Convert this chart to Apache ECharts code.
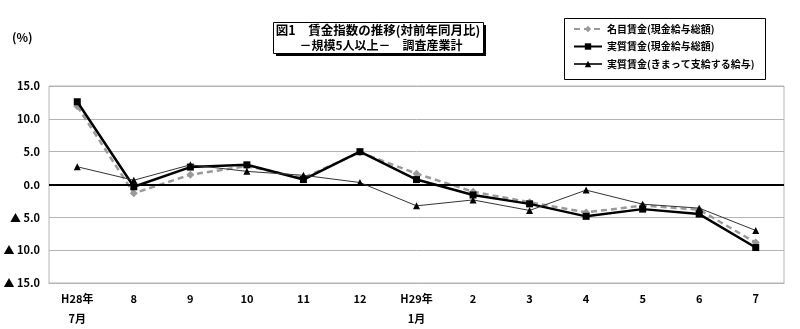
<!DOCTYPE html>
<html>
<head>
<meta charset="utf-8">
<script src="https://cdn.jsdelivr.net/npm/echarts@6/dist/echarts.min.js"></script>
<style>
  html, body { margin: 0; padding: 0; background: #fff; }
  #chart { width: 800px; height: 329px; }
</style>
</head>
<body>
<div id="chart"></div>
<script>
// 月次カテゴリ（H28年7月〜H29年7月）
var categories = ['H28年\n7月', '8', '9', '10', '11', '12', 'H29年\n1月', '2', '3', '4', '5', '6', '7'];

// 名目賃金（現金給与総額）対前年同月比 (%)
var nominalTotal = [11.9, -1.35, 1.5, 2.8, 1.0, 4.9, 1.65, -1.1, -2.7, -4.25, -3.2, -3.85, -8.85];
// 実質賃金（現金給与総額）
var realTotal = [12.6, -0.35, 2.65, 3.0, 0.75, 5.0, 0.75, -1.6, -2.95, -4.85, -3.75, -4.5, -9.6];
// 実質賃金（きまって支給する給与）
var realScheduled = [2.7, 0.65, 3.0, 2.0, 1.4, 0.3, -3.25, -2.35, -3.95, -0.85, -3.0, -3.6, -7.0];

var seriesNames = ['名目賃金(現金給与総額)', '実質賃金(現金給与総額)', '実質賃金(きまって支給する給与)'];
var titleLines = ['図1　賃金指数の推移(対前年同月比)', '－規模5人以上－　調査産業計'];

var FONT = '"Noto Sans CJK JP", "Noto Sans", sans-serif';

var chart = echarts.init(document.getElementById('chart'), null, { renderer: 'canvas' });

chart.setOption({
  animation: false,
  backgroundColor: '#ffffff',
  textStyle: { fontFamily: FONT },
  grid: {
    left: 49, right: 16, top: 86, bottom: 43,
    show: true, borderColor: '#b4b4b4', borderWidth: 1, backgroundColor: 'transparent'
  },
  xAxis: {
    type: 'category',
    data: categories,
    boundaryGap: true,
    axisLine: { onZero: false, lineStyle: { color: '#b4b4b4', width: 1 } },
    axisTick: { show: false },
    axisLabel: {
      color: '#000', fontFamily: FONT, fontWeight: 'bold', fontSize: 11,
      lineHeight: 20, margin: 6, interval: 0
    },
    splitLine: { show: false }
  },
  yAxis: {
    type: 'value',
    min: -15, max: 15, interval: 5,
    axisLine: { show: false },
    axisTick: { show: false },
    axisLabel: {
      color: '#000', fontFamily: FONT, fontWeight: 'bold', fontSize: 11, margin: 9,
      formatter: function (v) {
        return v < 0 ? '▲ ' + Math.abs(v).toFixed(1) : v.toFixed(1);
      }
    },
    splitLine: { lineStyle: { color: '#b4b4b4', width: 1 } }
  },
  legend: {
    orient: 'vertical',
    left: 568, top: 19,
    itemWidth: 28, itemHeight: 8, itemGap: 7.5,
    textStyle: { color: '#000', fontFamily: FONT, fontWeight: 'bold', fontSize: 10 },
    data: seriesNames
  },
  graphic: [
    // 凡例の枠
    { type: 'rect', left: 562, top: 16, shape: { width: 201, height: 61 },
      style: { fill: 'none', stroke: '#000', lineWidth: 1 }, z: 1 },
    // タイトル枠（影付き）
    { type: 'rect', left: 276, top: 25, shape: { width: 210, height: 31 },
      style: { fill: '#000' }, z: 1 },
    { type: 'rect', left: 273, top: 22, shape: { width: 210, height: 31 },
      style: { fill: '#fff', stroke: '#000', lineWidth: 1 }, z: 2 },
    { type: 'text', x: 378, y: 30, z: 3,
      style: { text: titleLines[0], fill: '#000', font: 'bold 12.5px ' + FONT,
        textAlign: 'center', textVerticalAlign: 'middle' } },
    { type: 'text', x: 381, y: 45, z: 3,
      style: { text: titleLines[1], fill: '#000', font: 'bold 12px ' + FONT,
        textAlign: 'center', textVerticalAlign: 'middle' } },
    // 単位
    { type: 'text', x: 12, y: 37, z: 3,
      style: { text: '(%)', fill: '#000', font: 'bold 12px ' + FONT,
        textAlign: 'left', textVerticalAlign: 'middle' } }
  ],
  series: [
    {
      name: seriesNames[0], type: 'line', data: nominalTotal,
      symbol: 'diamond', symbolSize: 8, z: 3,
      lineStyle: { color: '#9a9a9a', width: 2.5, type: [6, 4] },
      itemStyle: { color: '#9a9a9a' },
      markLine: {
        silent: true, symbol: 'none', label: { show: false },
        lineStyle: { color: '#000', width: 2, type: 'solid' },
        data: [{ yAxis: 0 }]
      }
    },
    {
      name: seriesNames[1], type: 'line', data: realTotal,
      symbol: 'rect', symbolSize: 7, z: 4,
      lineStyle: { color: '#000', width: 2.5 },
      itemStyle: { color: '#000' }
    },
    {
      name: seriesNames[2], type: 'line', data: realScheduled,
      symbol: 'triangle', symbolSize: 7, z: 5,
      lineStyle: { color: '#333', width: 1 },
      itemStyle: { color: '#000' }
    }
  ]
});
</script>
</body>
</html>
